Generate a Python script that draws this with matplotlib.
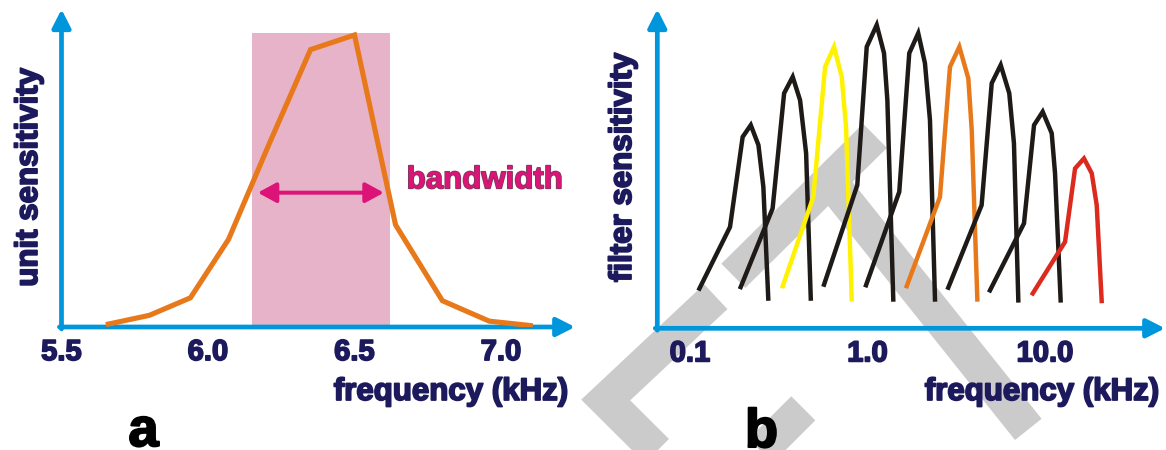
import matplotlib
matplotlib.use("Agg")
import matplotlib.pyplot as plt
import matplotlib.patheffects as pe
from matplotlib.lines import Line2D

# --- data ---
# panel a: one unit's tuning curve
unit_freq = [5.66, 5.80, 5.94, 6.07, 6.21, 6.35, 6.50, 6.64, 6.80, 6.96, 7.10]
unit_sens = [0.01, 0.04, 0.10, 0.30, 0.63, 0.95, 1.00, 0.35, 0.09, 0.02, 0.005]
band_lo, band_hi, band_top = 6.15, 6.62, 1.008
arrow_lo, arrow_hi, arrow_y = 6.17, 6.60, 0.46
a_ticks = [5.5, 6.0, 6.5, 7.0]
a_ticklabels = ["5.5", "6.0", "6.5", "7.0"]

# panel b: filter bank (kHz, log axis)
filter_freq = [
    [0.113, 0.168, 0.198, 0.220, 0.243, 0.259, 0.276],
    [0.193, 0.292, 0.339, 0.379, 0.417, 0.451, 0.479],
    [0.333, 0.495, 0.577, 0.648, 0.716, 0.757, 0.815],
    [0.569, 0.876, 0.990, 1.127, 1.239, 1.294, 1.397],
    [0.981, 1.510, 1.719, 1.931, 2.107, 2.249, 2.400],
    [1.663, 2.560, 2.915, 3.292, 3.698, 3.866, 4.157],
    [2.851, 4.395, 5.010, 5.629, 6.290, 6.685, 7.073],
    [4.898, 7.614, 8.675, 9.705, 10.91, 11.39, 12.25],
    [8.531, 12.97, 14.77, 16.58, 18.34, 19.56, 20.86],
]
filter_sens = [
    [0.131, 0.334, 0.631, 0.670, 0.604, 0.466, 0.098],
    [0.136, 0.395, 0.775, 0.829, 0.752, 0.577, 0.098],
    [0.139, 0.433, 0.862, 0.928, 0.829, 0.664, 0.095],
    [0.144, 0.472, 0.928, 1.000, 0.907, 0.752, 0.095],
    [0.142, 0.450, 0.907, 0.973, 0.874, 0.686, 0.095],
    [0.139, 0.433, 0.862, 0.928, 0.824, 0.653, 0.095],
    [0.134, 0.406, 0.808, 0.868, 0.775, 0.610, 0.092],
    [0.125, 0.346, 0.670, 0.714, 0.643, 0.511, 0.092],
    [0.115, 0.285, 0.527, 0.560, 0.511, 0.406, 0.090],
]
BLACK = "#1e1a17"
filter_colors = [BLACK, BLACK, "#fff200", BLACK, BLACK, "#e8791a", BLACK, BLACK, "#dc2a1e"]
b_ticks = [0.1, 1.0, 10.0]
b_ticklabels = ["0.1", "1.0", "10.0"]

# gray watermark strokes behind panel b (figure pixels, y from top)
watermark = [
    [(715.8, 296.7), (605.7, 400.0), (665.0, 459.0)],
    [(733.3, 275.8), (875.0, 135.8)],
    [(828.6, 179.3), (1028.3, 429.4)],
    [(803.3, 408.3), (753.0, 458.6)],
]

# --- style ---
W, H = 1166, 450
AXIS_BLUE = "#0096dc"
NAVY = "#1c1a5c"
FONT = ["Liberation Sans", "DejaVu Sans"]
plt.rcParams["font.family"] = FONT
plt.rcParams["font.weight"] = "bold"


def heavy(color, lw=1.3):
    # the original lettering is heavier than a plain bold face
    return [pe.withStroke(linewidth=lw, foreground=color)]


def fx(x):
    return x / W


def fy(y):
    return 1 - y / H


fig = plt.figure(figsize=(W / 100, H / 100), dpi=100)

for stroke in watermark:
    xs = [fx(p[0]) for p in stroke]
    ys = [fy(p[1]) for p in stroke]
    fig.add_artist(Line2D(xs, ys, transform=fig.transFigure, color="#cbcbcb",
                          lw=24.5, solid_joinstyle="miter", solid_capstyle="butt",
                          zorder=-5))


def arrow_axes(ax):
    for s in ax.spines.values():
        s.set_visible(False)
    ax.patch.set_alpha(0)
    style = dict(arrowstyle="-|>,head_length=0.55,head_width=0.28", color=AXIS_BLUE,
                 lw=3.4, mutation_scale=20, shrinkA=0, shrinkB=0)
    ax.annotate("", xy=(1, 0), xytext=(-0.004, 0), xycoords="axes fraction",
                arrowprops=style, annotation_clip=False)
    ax.annotate("", xy=(0, 1), xytext=(0, -0.006), xycoords="axes fraction",
                arrowprops=style, annotation_clip=False)
    ax.tick_params(axis="x", length=0, pad=8, labelsize=21, labelcolor=NAVY)
    ax.set_yticks([])


def bold_ticks(ax):
    for t in ax.get_xticklabels():
        t.set_fontweight("bold")
        t.set_path_effects(heavy(NAVY, 1.2))


# --- panel a ---
axA = fig.add_axes([fx(61.5), 1 - 327 / H, (575 - 61.5) / W, (327 - 9.3) / H])
axA.set_xlim(5.5, 5.5 + 513.5 / 293)
axA.set_ylim(0, 317.7 / 292)
arrow_axes(axA)
axA.axvspan(band_lo, band_hi, ymax=band_top / axA.get_ylim()[1], color="#e7b3c8", lw=0, zorder=1)
axA.plot(unit_freq, unit_sens, color="#e8791a", lw=3.7, solid_joinstyle="miter", zorder=3)
axA.annotate("", xy=(arrow_hi, arrow_y), xytext=(arrow_lo, arrow_y),
             arrowprops=dict(arrowstyle="<|-|>,head_length=0.55,head_width=0.3",
                             color="#dc1478", lw=2.9, mutation_scale=20,
                             shrinkA=0, shrinkB=0), zorder=4)
axA.text(6.678, 0.475, "bandwidth", color="#dc1478", fontsize=22.5, fontweight="bold",
         va="baseline", ha="left", path_effects=heavy("#7a3a5a", 1.2))
axA.set_xticks(a_ticks, a_ticklabels)
bold_ticks(axA)

# --- panel b ---
axB = fig.add_axes([fx(657.3), 1 - 328.3 / H, (1165 - 657.3) / W, (328.3 - 9.3) / H])
axB.set_xscale("log")
axB.set_xlim(10 ** (-1 + (657.3 - 690) / 177.5), 10 ** (-1 + (1165 - 690) / 177.5))
axB.set_ylim(0, 319 / 303.3)
arrow_axes(axB)
for fr, se, c in zip(filter_freq, filter_sens, filter_colors):
    axB.plot(fr, se, color=c, lw=3.2, solid_joinstyle="miter", zorder=3)
axB.set_xticks(b_ticks, b_ticklabels)
axB.minorticks_off()
bold_ticks(axB)

# --- labels ---
lab = dict(color=NAVY, fontsize=22.5, fontweight="bold", path_effects=heavy(NAVY))
fig.text(fx(568), fy(400), "frequency (kHz)", ha="right", va="baseline", **lab)
fig.text(fx(1159), fy(400), "frequency (kHz)", ha="right", va="baseline", **lab)
fig.text(fx(29), fy(177.5), "unit sensitivity", rotation=90, ha="center", va="center", **lab)
fig.text(fx(623), fy(167.5), "filter sensitivity", rotation=90, ha="center", va="center", **lab)
big = dict(ha="center", va="baseline", fontsize=39, fontweight="bold", color="black",
           path_effects=heavy("black", 1.5))
fig.text(fx(143.5), fy(446), "a", **big)
fig.text(fx(761.5), fy(447), "b", **big)

fig.savefig("out.png", dpi=100)
